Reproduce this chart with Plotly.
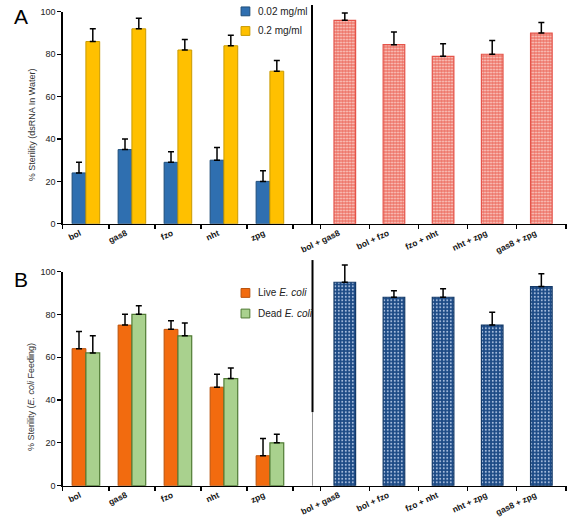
import plotly.graph_objects as go

W, H = 567, 527

# ---------------- data ----------------
single_genes = ["bol", "gas8", "fzo", "nht", "zpg"]
combo_genes = ["bol + gas8", "bol + fzo", "fzo + nht", "nht + zpg", "gas8 + zpg"]

# Panel A: dsRNA in water
a_low = [24, 35, 29, 30, 20]          # 0.02 mg/ml
a_low_err = [5, 5, 5, 6, 5]
a_high = [86, 92, 82, 84, 72]         # 0.2 mg/ml
a_high_err = [6, 5, 5, 5, 5]
a_combo = [96, 84.5, 79, 80, 90]
a_combo_err = [3.5, 6, 6, 6.5, 5]

# Panel B: E. coli feeding
b_live = [64, 75, 73, 46, 14]
b_live_err = [8, 5, 4, 6, 8]
b_dead = [62, 80, 70, 50, 20]
b_dead_err = [8, 4, 6, 5, 4]
b_combo = [95, 88, 88, 75, 93]
b_combo_err = [8, 3, 4, 6, 6]

y_ticks = [0, 20, 40, 60, 80, 100]


def px_x(p):
    return p / W


def px_y(p):
    return 1 - p / H


FONT = "Arial, Liberation Sans, Helvetica, sans-serif"


def err(arr):
    return dict(type="data", array=arr, arrayminus=[0] * len(arr), symmetric=False,
                color="black", thickness=1.5, width=3)


fig = go.Figure()

# Panel A left
fig.add_trace(go.Bar(x=single_genes, y=a_low, name="0.02 mg/ml", xaxis="x", yaxis="y",
                     marker=dict(color="#2f6fb0", line=dict(color="#1f4e7a", width=1)),
                     error_y=err(a_low_err), showlegend=False))
fig.add_trace(go.Bar(x=single_genes, y=a_high, name="0.2 mg/ml", xaxis="x", yaxis="y",
                     marker=dict(color="#ffc000", line=dict(color="#c99a00", width=1)),
                     error_y=err(a_high_err), showlegend=False))
# Panel A right
fig.add_trace(go.Bar(x=combo_genes, y=a_combo, name="combo A", xaxis="x2", yaxis="y2", width=0.44,
                     marker=dict(color="#ec6f63", line=dict(color="#e4544a", width=1.2),
                                 pattern=dict(shape=".", bgcolor="#ee7468", fgcolor="#fbd6d0",
                                              size=3, solidity=0.3, fillmode="replace")),
                     error_y=err(a_combo_err), showlegend=False))
# Panel B left
fig.add_trace(go.Bar(x=single_genes, y=b_live, name="Live E. coli", xaxis="x3", yaxis="y3",
                     marker=dict(color="#f26b0f", line=dict(color="#b9520d", width=1)),
                     error_y=err(b_live_err), showlegend=False))
fig.add_trace(go.Bar(x=single_genes, y=b_dead, name="Dead E. coli", xaxis="x3", yaxis="y3",
                     marker=dict(color="#a9d18e", line=dict(color="#4f7a33", width=1.2)),
                     error_y=err(b_dead_err), showlegend=False))
# Panel B right
fig.add_trace(go.Bar(x=combo_genes, y=b_combo, name="combo B", xaxis="x4", yaxis="y4", width=0.44,
                     marker=dict(color="#1c4a85", line=dict(color="#153a68", width=1.2),
                                 pattern=dict(shape=".", bgcolor="#1c4a85", fgcolor="#a9bfdf",
                                              size=3.5, solidity=0.25, fillmode="replace")),
                     error_y=err(b_combo_err), showlegend=False))

tickfont_cat = dict(family=FONT, size=8.5, color="#111", weight="bold")
tickfont_y = dict(family=FONT, size=9, color="#222")

xl_dom = [px_x(52), px_x(307)]
xr_dom = [px_x(307), 1.0]
xl_range = [-0.5, -0.5 + 255 / 47]
xr_range = [(307 - 340) / 50.2, (567 - 340) / 50.2]

top_l_dom = [px_y(223), px_y(7)]
top_r_dom = [px_y(223), 1.0]
bot_l_dom = [px_y(490), px_y(271.7)]
bot_r_dom = [px_y(490), px_y(260)]


def xaxis(dom, rng, anchor):
    return dict(domain=dom, range=rng, anchor=anchor, type="category", tickson="boundaries",
                ticks="outside", ticklen=4, tickwidth=1.2, tickcolor="black",
                showline=True, linecolor="black", linewidth=1.5, showgrid=False,
                zeroline=False, tickangle=-25, ticklabelshift=-6,
                tickfont=tickfont_cat, fixedrange=True)


def yaxis_left(dom, anchor):
    return dict(domain=dom, range=[0, 100], anchor=anchor, tickvals=y_ticks,
                ticktext=[str(v) for v in y_ticks], ticks="outside", ticklen=4,
                tickwidth=1.2, tickcolor="black", showline=True, linecolor="black",
                linewidth=1.5, showgrid=False, zeroline=False, tickfont=tickfont_y)


def yaxis_right(dom, top, anchor, show):
    return dict(domain=dom, range=[0, top], anchor=anchor, showticklabels=False, ticks="",
                showline=show, linecolor="black", linewidth=2, showgrid=False, zeroline=False)


shapes = []
# bottom separator (black upper portion, thin grey lower portion)
shapes.append(dict(type="line", xref="paper", yref="paper", x0=px_x(307), x1=px_x(307),
                   y0=px_y(260), y1=px_y(415), line=dict(color="black", width=2)))
shapes.append(dict(type="line", xref="paper", yref="paper", x0=px_x(307), x1=px_x(307),
                   y0=px_y(415), y1=px_y(490), line=dict(color="#999", width=1)))

# legend swatches
legend_items = [
    (2, 11, "#2f6fb0", "#1f4e7a", "0.02 mg/ml"),
    (22, 31, "#ffc000", "#c99a00", "0.2 mg/ml"),
    (289, 298, "#f26b0f", "#b9520d", "Live <i>E. coli</i>"),
    (310, 319, "#a9d18e", "#4f7a33", "Dead <i>E. coli</i>"),
]
annotations = []
for y0, y1, fill, line, label in legend_items:
    shapes.append(dict(type="rect", xref="paper", yref="paper", x0=px_x(234), x1=px_x(243),
                       y0=px_y(y1), y1=px_y(y0), fillcolor=fill, line=dict(color=line, width=1)))
    annotations.append(dict(text=label, xref="paper", yref="paper", x=px_x(249),
                            y=px_y((y0 + y1) / 2), xanchor="left", yanchor="middle",
                            showarrow=False, font=dict(family=FONT, size=10, color="#222")))

annotations += [
    dict(text="A", xref="paper", yref="paper", x=0, y=px_y(12), xanchor="left", yanchor="middle",
         showarrow=False, font=dict(family=FONT, size=21, color="black")),
    dict(text="B", xref="paper", yref="paper", x=0, y=px_y(280), xanchor="left", yanchor="middle",
         showarrow=False, font=dict(family=FONT, size=21, color="black")),
    dict(text="% Sterility (dsRNA In Water)", xref="paper", yref="paper", x=px_x(20),
         y=px_y(122), textangle=-90, xanchor="center", yanchor="middle", showarrow=False,
         font=dict(family=FONT, size=9, color="#333")),
    dict(text="% Sterility (<i>E. coli</i> Feeding)", xref="paper", yref="paper", x=px_x(20),
         y=px_y(400), textangle=-90, xanchor="center", yanchor="middle", showarrow=False,
         font=dict(family=FONT, size=9, color="#333")),
]

fig.update_layout(
    width=W, height=H, margin=dict(l=0, r=0, t=0, b=0),
    paper_bgcolor="white", plot_bgcolor="white",
    barmode="group", bargap=0.4, bargroupgap=0,
    font=dict(family=FONT),
    xaxis=xaxis(xl_dom, xl_range, "y"),
    yaxis=yaxis_left(top_l_dom, "x"),
    xaxis2=xaxis(xr_dom, xr_range, "y2"),
    yaxis2=yaxis_right(top_r_dom, 223 / 2.16, "x2", True),
    xaxis3=xaxis(xl_dom, xl_range, "y3"),
    yaxis3=yaxis_left(bot_l_dom, "x3"),
    xaxis4=xaxis(xr_dom, xr_range, "y4"),
    yaxis4=yaxis_right(bot_r_dom, 230 / 2.183, "x4", False),
    shapes=shapes, annotations=annotations, showlegend=False,
)

fig.write_html(
    "out.html",
    config={"displayModeBar": False, "staticPlot": True},
    post_script="document.body.style.margin='0';document.body.style.padding='0';"
                "document.body.style.overflow='hidden';",
)
